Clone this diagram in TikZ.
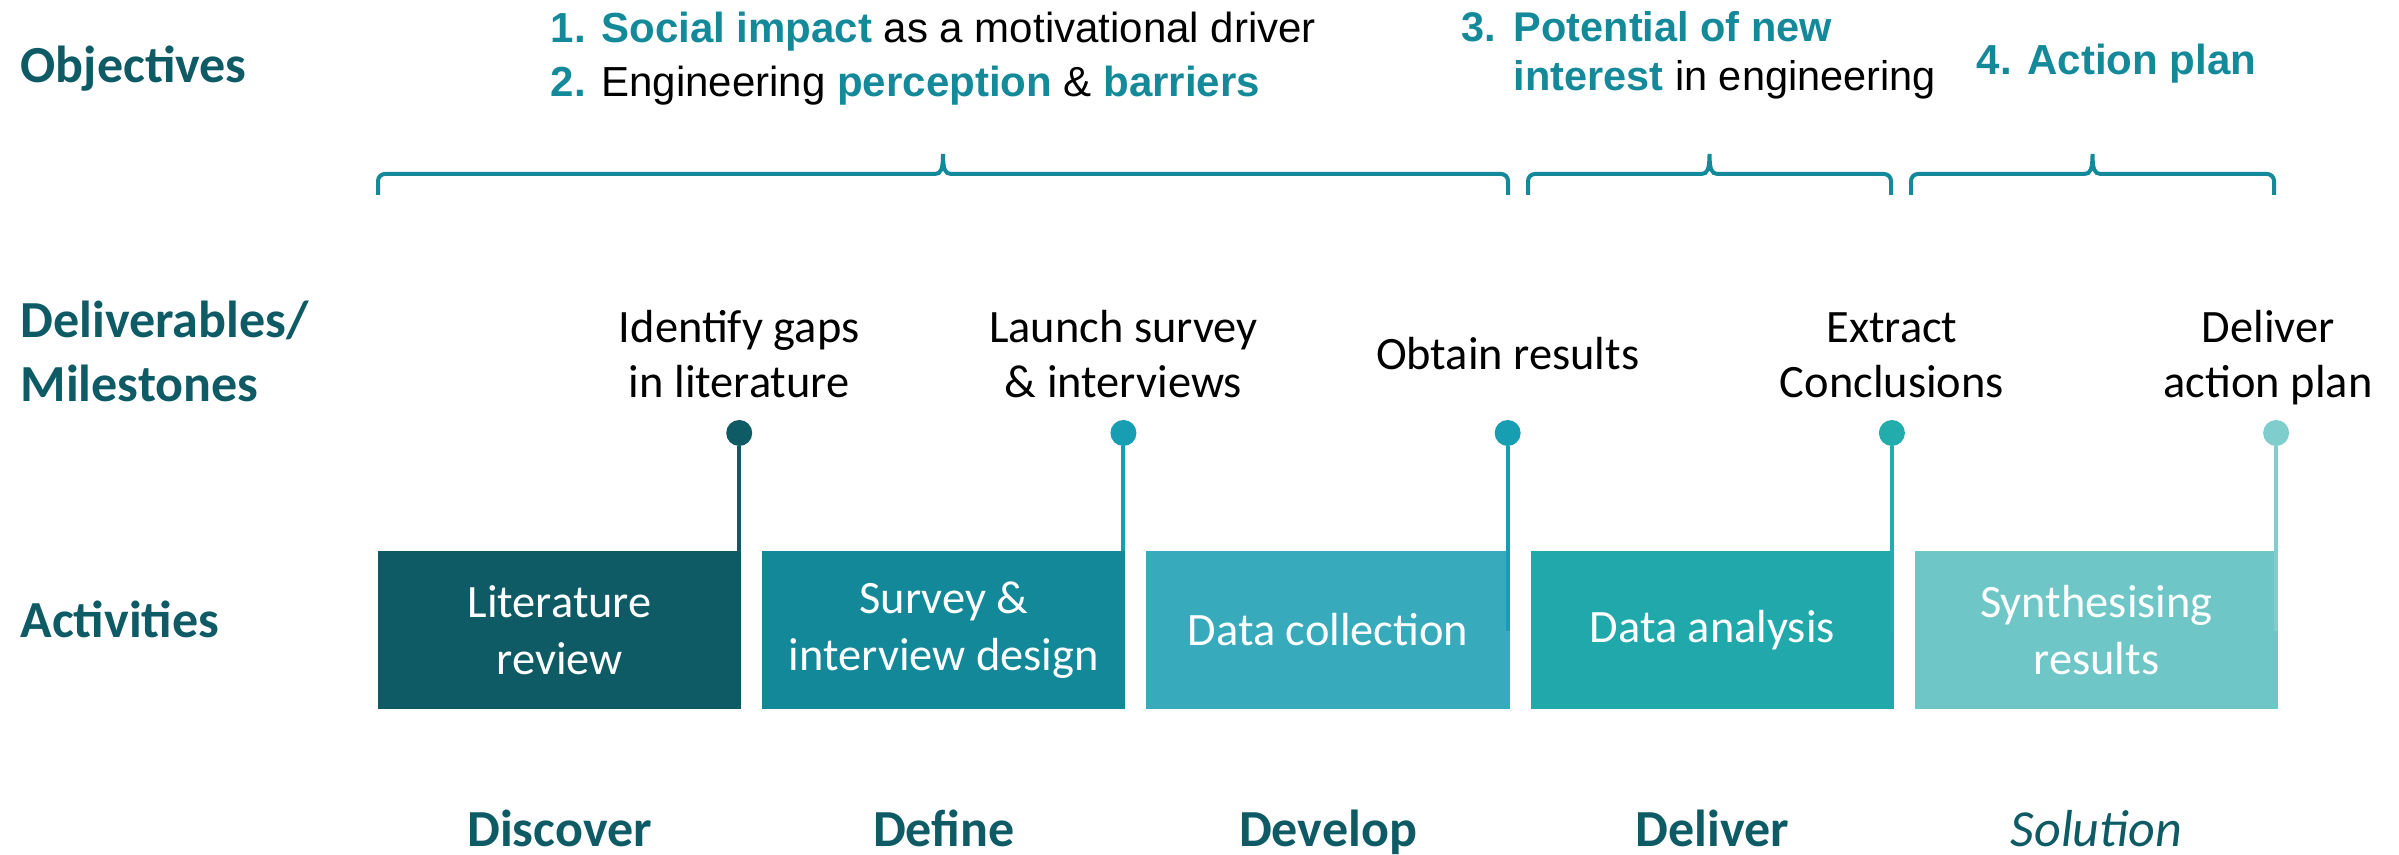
\documentclass[tikz,border=0pt]{standalone}
\usepackage{fontspec}
\setmainfont{Carlito}
\newfontfamily\arialfont{Liberation Sans}
\usetikzlibrary{positioning,calc}

\definecolor{labelteal}{HTML}{0E5B65}
\definecolor{objteal}{HTML}{13899A}
\definecolor{boxA}{HTML}{0E5B65}
\definecolor{boxB}{HTML}{128898}
\definecolor{boxC}{HTML}{37AABB}
\definecolor{boxD}{HTML}{20A8AA}
\definecolor{boxE}{HTML}{6EC6C6}
\definecolor{pinB}{HTML}{179EB2}
\definecolor{pinD}{HTML}{22ACAC}
\definecolor{pinE}{HTML}{80CDCD}

\newcommand{\hl}[1]{\textcolor{objteal}{\textbf{#1}}}

\tikzset{
  rowlabel/.style={anchor=base west, align=left, inner sep=0, text=labelteal,
    font=\fontsize{14.8}{18.4}\selectfont\bfseries},
  phase/.style={anchor=base, inner sep=0, text=labelteal,
    font=\fontsize{14.8}{17.6}\selectfont\bfseries},
  activity/.style={minimum width=3.63cm, minimum height=1.58cm, inner sep=0,
    outer sep=0, text=white, align=center, font=\fontsize{13.2}{16.2}\selectfont},
  milestone/.style={anchor=base, align=center, inner sep=0,
    font=\fontsize{13.2}{15.9}\selectfont},
  pin/.style={circle, minimum size=0.26cm, inner sep=0, outer sep=0},
  stem/.style={line width=0.04cm},
  objective/.style={anchor=base west, align=left, inner sep=0,
    font=\arialfont\fontsize{11.95}{15.6}\selectfont},
  bracket/.style={draw=objteal, line width=0.04cm}
}

\begin{document}
\begin{tikzpicture}[x=0.01cm, y=0.01cm]
  \useasboundingbox (0,0) rectangle (2399,855);

  % row labels
  \node[rowlabel] (objlbl) at (20,772) {Objectives};
  \node[rowlabel] (mslbl) at (20,453) {Deliverables/\\Milestones};
  \node[rowlabel] (actlbl) at (20,217) {Activities};

  % activities
  \node[activity, fill=boxA, anchor=north west] (lit) at (378,304) {Literature\\review};
  \node[activity, fill=boxB, right=0.21cm of lit] (survey) {Survey \&\\interview design};
  \node[activity, fill=boxC, right=0.21cm of survey] (collect) {Data collection};
  \node[activity, fill=boxD, right=0.21cm of collect] (analysis) {Data analysis};
  \node[activity, fill=boxE, right=0.21cm of analysis] (synth) {Synthesising\\results};

  % phases
  \node[phase] (discover) at (lit |- 0,8) {Discover};
  \node[phase] (define) at (survey |- 0,8) {Define};
  \node[phase] (develop) at (collect |- 0,8) {Develop};
  \node[phase] (deliver) at (analysis |- 0,8) {Deliver};
  \node[phase, font=\fontsize{14.8}{17.6}\selectfont\itshape] (solution) at (synth |- 0,8) {Solution};

  % milestones
  \node[pin, fill=boxA] (pin1) at ($(lit.north east)+(-2,118)$) {};
  \node[pin, fill=pinB] (pin2) at ($(survey.north east)+(-2,118)$) {};
  \node[pin, fill=pinB] (pin3) at ($(collect.north east)+(-2,118)$) {};
  \node[pin, fill=pinD] (pin4) at ($(analysis.north east)+(-2,118)$) {};
  \node[pin, fill=pinE] (pin5) at ($(synth.north east)+(-2,118)$) {};
  \draw[stem, boxA] (pin1) -- (pin1 |- lit.north);
  \draw[stem, pinB] (pin2) -- (pin2 |- survey.north);
  \draw[stem, pinB] (pin3) -- ++(0,-198);
  \draw[stem, pinD] (pin4) -- ++(0,-198);
  \draw[stem, pinE] (pin5) -- ++(0,-198);

  \node[milestone] (ms1) at (pin1 |- 0,457) {Identify gaps\\in literature};
  \node[milestone] (ms2) at (pin2 |- 0,457) {Launch survey\\\& interviews};
  \node[milestone] (ms3) at (pin3 |- 0,485) {Obtain results};
  \node[milestone] (ms4) at (pin4 |- 0,457) {Extract\\Conclusions};
  \node[milestone, xshift=-0.08cm] (ms5) at (pin5 |- 0,457) {Deliver\\action plan};

  % objectives
  \node[objective] (obj12) at (550,758)
    {\hl{1. Social impact} as a motivational driver\\\hl{2.} Engineering \hl{perception} \& \hl{barriers}};
  \node[objective, font=\arialfont\fontsize{11.8}{14.2}\selectfont] (obj3) at (1461,764)
    {\makebox[0.52cm][l]{\hl{3.}}\hl{Potential of new}\\\hspace*{0.52cm}\hl{interest} in engineering};
  \node[objective] (obj4) at (1976,780) {\hl{4. Action plan}};

  % brackets
  \foreach \l/\r in {378/1508, 1528/1891, 1911/2274}{
    \pgfmathsetmacro\m{(\l+\r)/2}
    \draw[bracket] (\l,660) -- (\l,674) arc[start angle=180, end angle=90, radius=7]
      -- (\m-8,681) .. controls (\m-2,681) and (\m,686) .. (\m,701)
      .. controls (\m,686) and (\m+2,681) .. (\m+8,681)
      -- (\r-7,681) arc[start angle=90, end angle=0, radius=7] -- (\r,660);
  }
\end{tikzpicture}
\end{document}
